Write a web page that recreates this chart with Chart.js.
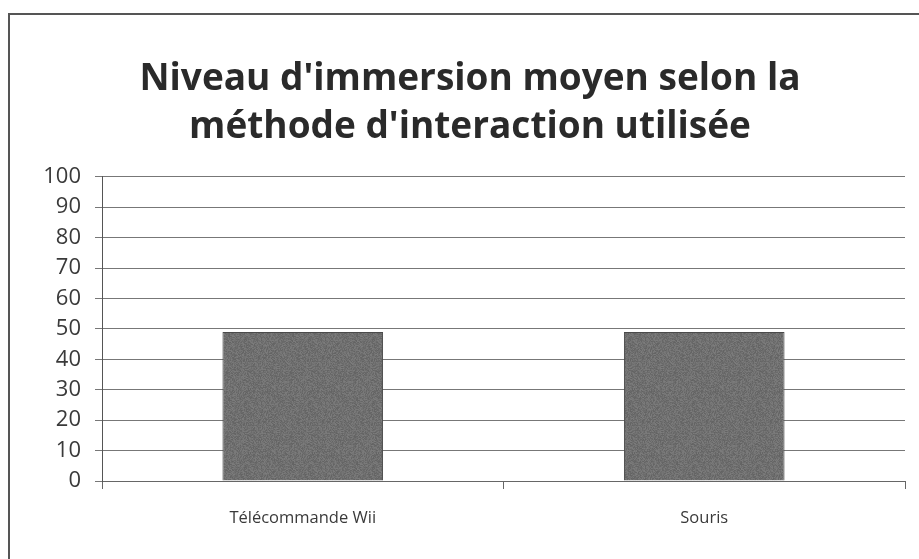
<!DOCTYPE html>
<html>
<head>
<meta charset="utf-8">
<script src="https://cdn.jsdelivr.net/npm/chart.js@4/dist/chart.umd.min.js"></script>
<style>
  html, body { margin: 0; padding: 0; background: #fff; }
  #wrap { width: 919px; height: 559px; position: relative; }
</style>
</head>
<body>
<div id="wrap"><canvas id="c" width="919" height="559"></canvas></div>
<script>
// Categories and average immersion level per interaction method
const categories = ['Télécommande Wii', 'Souris'];
const immersion = [49, 49];
const yTicks = [0, 10, 20, 30, 40, 50, 60, 70, 80, 90, 100];
const titleLines = ["Niveau d'immersion moyen selon la", "méthode d'interaction utilisée"];

const FONT = '"Open Sans", Lato, sans-serif';

// Mottled grey fill for the bars (deterministic hash noise)
function makeBarPattern() {
  const size = 64;
  const p = document.createElement('canvas');
  p.width = size; p.height = size;
  const g = p.getContext('2d');
  const img = g.createImageData(size, size);
  for (let y = 0; y < size; y++) {
    for (let x = 0; x < size; x++) {
      let h = (x * 374761393 + y * 668265263) | 0;
      h = (h ^ (h >>> 13)) * 1274126177 | 0;
      h = (h ^ (h >>> 16)) >>> 0;
      const v = 112 + (h % 26) - 13;
      const i = (y * size + x) * 4;
      img.data[i] = v; img.data[i + 1] = v; img.data[i + 2] = v; img.data[i + 3] = 255;
    }
  }
  g.putImageData(img, 0, 0);
  return g.createPattern(p, 'repeat');
}

// Outer chart frame
const framePlugin = {
  id: 'frame',
  beforeDraw(chart) {
    const ctx = chart.ctx;
    ctx.save();
    ctx.fillStyle = '#fff';
    ctx.fillRect(0, 0, chart.width, chart.height);
    ctx.strokeStyle = '#555';
    ctx.lineWidth = 2;
    ctx.strokeRect(9, 14, chart.width + 10, chart.height + 10);
    ctx.restore();
  }
};

new Chart(document.getElementById('c'), {
  type: 'bar',
  data: {
    labels: categories,
    datasets: [{
      data: immersion,
      backgroundColor: makeBarPattern(),
      borderColor: '#4a4a4a',
      borderWidth: 1,
      barPercentage: 0.4,
      categoryPercentage: 1.0
    }]
  },
  options: {
    responsive: false,
    animation: false,
    layout: { padding: { left: 35, right: 14, top: 0, bottom: 0 } },
    plugins: {
      legend: { display: false },
      tooltip: { enabled: false },
      title: {
        display: true,
        text: titleLines,
        color: '#2a2a2a',
        font: { family: FONT, size: 37, weight: 'bold', lineHeight: 1.28 },
        padding: { top: 56, bottom: 26 }
      }
    },
    scales: {
      x: {
        grid: {
          offset: true,
          drawOnChartArea: false,
          drawTicks: true,
          tickLength: 8,
          color: '#666'
        },
        border: { display: true, color: '#666', width: 1 },
        ticks: {
          color: '#3a3a3a',
          font: { family: FONT, size: 16.5 },
          padding: 19,
          maxRotation: 0
        },
        afterFit(scale) { scale.height = 78; }
      },
      y: {
        min: 0,
        max: 100,
        afterBuildTicks(scale) { scale.ticks = yTicks.map(v => ({ value: v })); },
        grid: {
          color: '#777',
          lineWidth: 1,
          drawTicks: true,
          tickLength: 7
        },
        border: { display: true, color: '#555', width: 1 },
        ticks: {
          color: '#3a3a3a',
          font: { family: FONT, size: 22 },
          padding: 14
        },
        afterFit(scale) { scale.width = 67; }
      }
    }
  },
  plugins: [framePlugin]
});
</script>
</body>
</html>
